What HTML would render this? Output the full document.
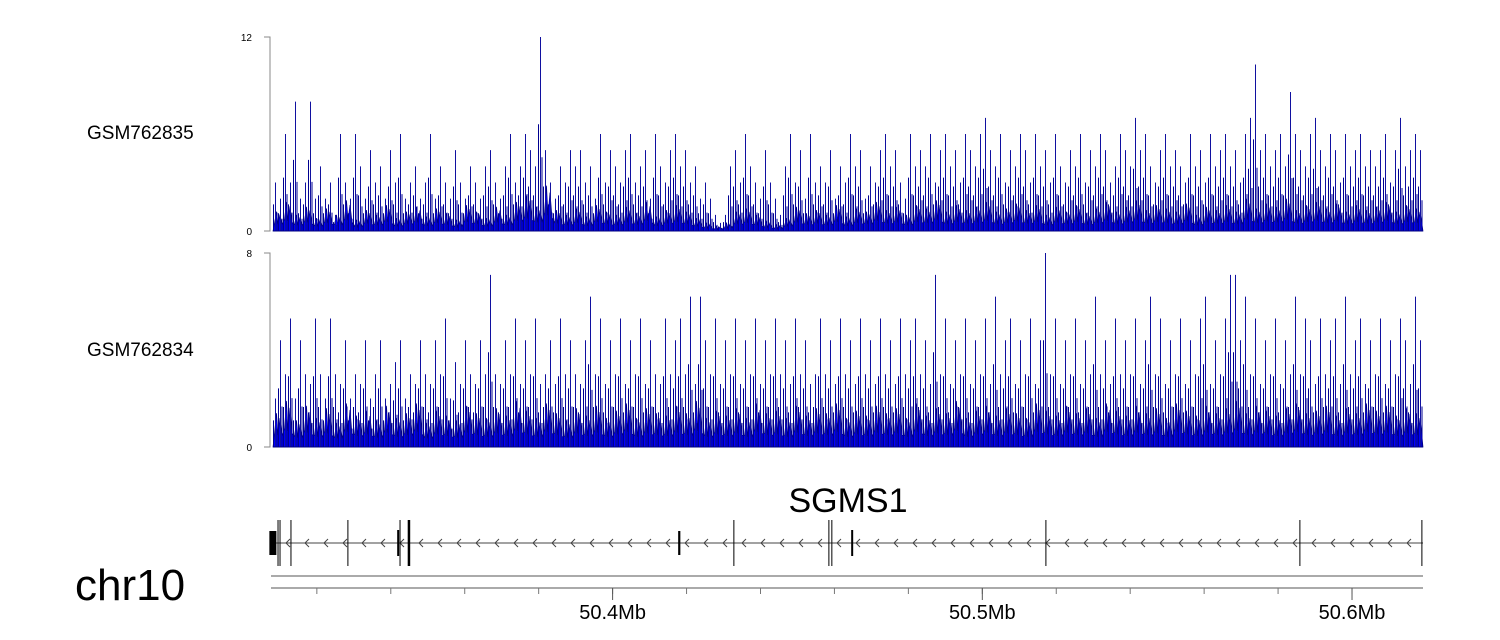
<!DOCTYPE html>
<html><head><meta charset="utf-8"><style>
html,body{margin:0;padding:0;background:#fff;}
svg{display:block;font-family:"Liberation Sans",Arial,sans-serif;}
</style></head><body>
<svg id="c" width="1500" height="640" viewBox="0 0 1500 640">
<text x="87" y="139" font-size="19">GSM762835</text>
<text x="87" y="356" font-size="19">GSM762834</text>
<text x="75" y="600" font-size="44">chr10</text>
<text x="848" y="512" font-size="34" text-anchor="middle">SGMS1</text>
<g id="t1"></g>
<g id="t2"></g>
<g id="gene"></g>
<g id="axis"></g>
</svg>
<script>
const NS="http://www.w3.org/2000/svg";
const track1Max=12, track2Max=8;
const track1Peaks=[3,2,6,3,8,2,3,8,2,4, 2,3,1,6,3,2,6,4,2,5, 3,4,2,5,3,6,2,3,4,2, 3,6,2,4,3,2,5,3,2,4, 3,2,4,5,3,2,4,6,3,4, 6,5,4,12,5,3,2,4,3,5, 4,5,3,4,2,6,3,5,4,3, 5,6,3,4,5,2,6,4,3,5, 6,4,5,3,4,2,3,2,1,0.5, 1,4,5,3,6,4,3,2,5,3, 2,1,4,6,3,5,2,6,3,4, 3,5,2,4,3,6,4,5,2,4, 3,5,6,4,5,3,2,6,4,5, 4,6,3,5,6,4,5,3,6,5, 4,6,7,5,4,6,3,5,4,6, 5,3,6,4,5,3,6,4,3,5, 4,6,3,5,4,6,5,3,4,6, 5,4,7,5,6,4,3,5,6,4, 5,4,3,6,4,5,3,6,4,5, 6,4,5,3,6,7,10.3,5,6,4, 5,6,4,8.6,6,5,4,6,7,5, 4,6,5,3,6,4,5,6,4,5, 4,5,6,3,5,7,4,5,6,5];
const track1Fill=[1.2,1.8,1.0,1.5,0.8, 1.4,1.0,1.9,0.7,1.3, 1.0,1.6,0.8,1.2,1.5, 0.9,1.4,1.1,0.7,1.6, 1.2,0.8,1.5,1.0,1.8, 2.2,1.5,2.8,1.3,1.0, 1.4,0.9,1.6,1.2,1.0, 1.5,1.1,1.8,0.9,1.3, 1.6,1.2,0.8,0.5,0.3, 0.5,1.2,1.4,1.0,0.6, 0.4,0.8,1.5,1.1,1.3, 1.0,1.6,0.9,1.4,1.2, 1.8,1.3,1.5,1.0,1.6, 1.4,1.9,1.2,1.6,1.3, 1.5,1.8,1.2,1.4,1.7, 1.3,1.6,1.0,1.5,1.2, 1.6,1.1,1.4,1.8,1.2, 1.5,1.9,1.3,1.6,1.4, 1.2,1.7,1.0,1.5,1.3, 1.6,1.2,2.0,1.4,1.7, 1.5,2.0,1.3,1.6,1.8, 1.4,1.7,1.2,1.6,1.3, 1.5,1.8,1.2,1.6,1.4];
const track2Peaks=[2,4.4,3,5.3,2,4.4,3,2.6,5.3,3, 2,5.3,3,2.6,4.4,2,3,2.6,4.4,2, 3,4.4,2,2.6,3.5,4.4,2,3,2.6,4.4, 3,2.6,4.4,3,5.3,2,3.5,2.6,4.4,3, 2.6,4.4,3,7.1,3,2.6,4.4,3,5.3,2.6, 4.4,3,5.3,2.6,3,4.4,2.6,5.3,3,4.4, 3,2.6,4.4,6.2,3,5.3,2.6,4.4,3,5.3, 2.6,4.4,3,5.3,2.6,4.4,3,2.6,5.3,3, 4.4,5.3,3,6.2,2.6,6.2,4.4,3,5.3,2.6, 4.4,3,5.3,2.6,4.4,3,5.3,2.6,4.4,3, 5.3,3,4.4,2.6,5.3,3,4.4,2.6,3,5.3, 3,4.4,2.6,5.3,3,4.4,2.6,5.3,3,4.4, 2.6,5.3,3,4.4,2.6,5.3,3,4.4,5.3,3, 4.4,2.6,7.1,3,5.3,2.6,4.4,3,5.3,2.6, 4.4,3,5.3,2.6,6.2,3,4.4,5.3,2.6,4.4, 3,5.3,2.6,4.4,8,3,5.3,2.6,4.4,3, 5.3,2.6,4.4,3,6.2,3,4.4,2.6,5.3,3, 4.4,3,5.3,2.6,4.4,6.2,3,5.3,2.6,4.4, 3,5.3,2.6,4.4,3,5.3,6.2,2.6,4.4,3, 5.3,7.1,7.1,4.4,6.2,3,5.3,2.6,4.4,3, 5.3,2.6,4.4,3,6.2,3,5.3,4.4,2.6,5.3, 3,4.4,5.3,2.6,6.2,3,4.4,5.3,2.6,4.4, 3,5.3,2.6,4.4,3,5.3,4.4,2.6,6.2,4.4];
const track2Fill=[1.4,1.9,1.1,1.7,1.2, 1.6,1.0,1.8,1.3,1.5, 1.1,1.7,1.2,1.4,1.8, 1.0,1.5,1.3,1.1,1.7, 1.4,1.2,1.6,1.3,1.9, 1.5,1.2,1.8,1.4,1.1, 1.6,1.3,1.7,1.2,1.5, 1.8,1.2,1.6,1.4,1.3, 1.7,1.4,1.9,1.2,1.5, 1.3,1.6,1.2,1.8,1.4, 1.5,1.2,1.7,1.3,1.6, 1.4,1.8,1.2,1.5,1.3, 1.7,1.4,1.6,1.2,1.8, 1.3,1.6,1.4,1.9,1.2, 1.5,1.7,1.3,1.6,1.4, 1.2,1.8,1.5,1.3,1.7, 1.4,1.6,1.2,1.8,1.5, 1.3,1.7,1.4,1.6,1.2, 1.8,1.5,1.3,1.7,1.4, 1.6,1.9,1.4,1.7,1.5, 1.3,1.6,1.8,1.4,1.5, 1.7,1.3,1.6,1.4,1.8, 1.5,1.7,1.3,1.6,1.4];
const axisMajorLabels=["50.4Mb","50.5Mb","50.6Mb"];
const axisMajorPos=[50.4,50.5,50.6];
const exonPositions=[50.3077,50.3095,50.3130,50.3284,50.3420,50.3425,50.3449,50.4180,50.4328,50.4585,50.4593,50.4648,50.5172,50.5859,50.6189];
const exonKinds=["box","tall","line","line","short","line","thick","mid","line","line","line","short","line","line","line"];

const X0=273,X1=1423, G0=50.3076, G1=50.6192;
const gx=g=>271+(g-G0)/(G1-G0)*(1423-271);
function el(tag,attrs,parent){const e=document.createElementNS(NS,tag);for(const k in attrs)e.setAttribute(k,attrs[k]);parent.appendChild(e);return e;}

function drawTrack(gid,peaks,fill,maxV,top,bot){
  const g=document.getElementById(gid);
  const ys=v=>bot-(v/maxV)*(bot-top);
  const ax=el('path',{d:`M264 ${top}H270V${bot}H264`,stroke:'#888',fill:'none','stroke-width':1},g);
  
  
  const t1=el('text',{x:252,y:top+4,'font-size':10,'text-anchor':'end'},g);t1.textContent=maxV;
  
  
  const t0=el('text',{x:252,y:bot+4,'font-size':10,'text-anchor':'end'},g);t0.textContent='0';
  
  
  const fw=(X1-X0)/fill.length;
  let d=`M${X0} ${bot}`;
  fill.forEach((v,i)=>{
    const xa=X0+i*fw;
    d+=` L${(xa+fw*0.15).toFixed(1)} ${ys(v*0.4).toFixed(1)}`;
    d+=` L${(xa+fw*0.35).toFixed(1)} ${ys(v).toFixed(1)}`;
    d+=` L${(xa+fw*0.5).toFixed(1)} ${ys(v*0.35).toFixed(1)}`;
    d+=` L${(xa+fw*0.7).toFixed(1)} ${ys(v*0.85).toFixed(1)}`;
    d+=` L${(xa+fw*0.9).toFixed(1)} ${ys(v*0.3).toFixed(1)}`;
  });
  d+=` L${X1} ${bot} Z`;
  const a=el('path',{d:d,fill:'#0000ff',stroke:'#000080','stroke-width':0.7},g);
  
  
  const pw=(X1-X0)/peaks.length;
  peaks.forEach((v,i)=>{
    const x=X0+i*pw+pw*0.5;
    const s=el('line',{x1:x,x2:x,y1:bot,y2:ys(v),stroke:'#1010a0','stroke-width':1},g);
    
    
    const s2=el('line',{x1:x-2,x2:x-2,y1:bot,y2:ys(v*0.55),stroke:'#000090','stroke-width':1},g);
    
    
    const s3=el('line',{x1:x+1.5,x2:x+1.5,y1:bot,y2:ys(v*0.38),stroke:'#000090','stroke-width':1},g);
    
    
  });
  const bl=el('line',{x1:X0,x2:X1,y1:bot,y2:bot,stroke:'#000080','stroke-width':1},g);
  
  
}
drawTrack('t1',track1Peaks,track1Fill,track1Max,37,231);
drawTrack('t2',track2Peaks,track2Fill,track2Max,253,447);

// gene model
const gg=document.getElementById('gene');
const gl=el('line',{x1:271,x2:1423,y1:543,y2:543,stroke:'#444','stroke-width':1},gg);


for(let x=286;x<1420;x+=19){
  const ch=el('path',{d:`M${x+4} ${539}L${x} 543L${x+4} 547`,stroke:'#444',fill:'none','stroke-width':1},gg);
  
  
}
exonPositions.forEach((p,i)=>{
  const x=gx(p),k=exonKinds[i];let e;
  if(k==='box')e=el('rect',{x:x-2,y:531,width:7,height:24,fill:'#000'},gg);
  else if(k==='tall')e=el('path',{d:`M${x} 520V566M${x+2} 520V566`,stroke:'#000','stroke-width':1},gg);
  else if(k==='thick')e=el('rect',{x:x-1.2,y:520,width:2.5,height:46,fill:'#000'},gg);
  else if(k==='mid')e=el('rect',{x:x-1,y:531,width:2.2,height:24,fill:'#000'},gg);
  else if(k==='short')e=el('rect',{x:x-1,y:530,width:2,height:26,fill:'#000'},gg);
  else e=el('line',{x1:x,x2:x,y1:520,y2:566,stroke:'#000','stroke-width':1},gg);
  
  
});

// axis
const ag=document.getElementById('axis');
const l1=el('line',{x1:271,x2:1423,y1:576,y2:576,stroke:'#777','stroke-width':1.2},ag);


const l2=el('line',{x1:271,x2:1423,y1:588,y2:588,stroke:'#777','stroke-width':1.2},ag);


for(let g=50.32;g<50.62;g+=0.02){
  const x=gx(g);if(x<271||x>1423)continue;
  const t=el('line',{x1:x,x2:x,y1:588,y2:594,stroke:'#777','stroke-width':1},ag);
  
  
}
axisMajorPos.forEach((p,i)=>{
  const x=gx(p);
  const t=el('line',{x1:x,x2:x,y1:588,y2:600,stroke:'#555','stroke-width':1},ag);
  
  
  const tx=el('text',{x:x,y:619,'font-size':20,'text-anchor':'middle'},ag);
  tx.textContent=axisMajorLabels[i];
  
  
});
</script>
</body></html>
